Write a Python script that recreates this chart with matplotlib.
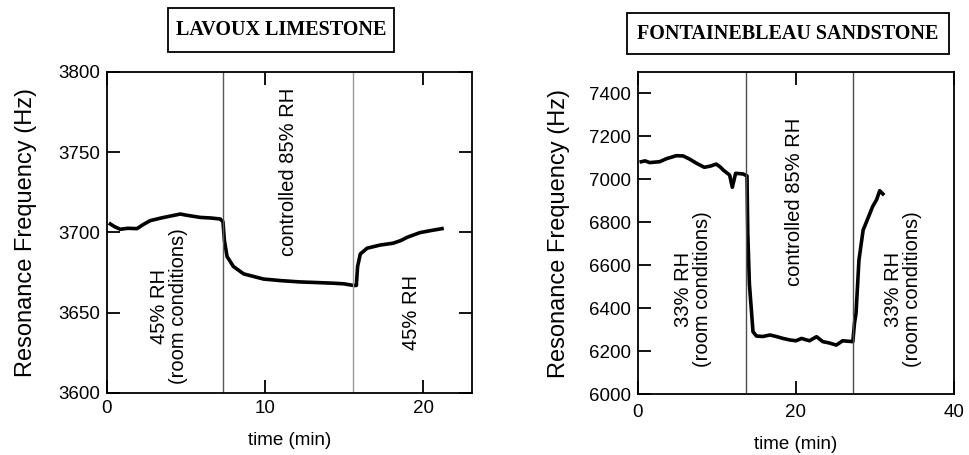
import matplotlib
matplotlib.use("Agg")
import matplotlib.pyplot as plt
from matplotlib.patches import Rectangle

plt.rcParams["font.family"] = ["Liberation Sans", "DejaVu Sans"]

# Lavoux limestone (left panel)
t_lav = [0.21, 0.5, 0.84, 1.3, 1.9, 2.3, 2.74, 3.5, 4.2, 4.64, 5.0, 5.9, 6.6, 7.17,
         7.34, 7.43, 7.6, 8.0, 8.65, 9.9, 11.0, 12.2, 13.3, 14.3, 15.0, 15.6, 15.78,
         15.86, 16.03, 16.46, 17.3, 18.1, 18.6, 19.0, 19.8, 20.5, 21.2]
f_lav = [3705.3, 3703.5, 3702.0, 3702.6, 3702.4, 3705.0, 3707.4, 3709.2, 3710.6, 3711.5,
         3710.8, 3709.4, 3709.0, 3708.4, 3706.7, 3695.0, 3685.0, 3678.8, 3674.2, 3671.0,
         3670.0, 3669.2, 3668.8, 3668.4, 3668.0, 3667.0, 3667.0, 3678.8, 3686.6, 3690.2,
         3692.2, 3693.3, 3695.0, 3697.0, 3699.9, 3701.2, 3702.4]
lav_bounds = [7.35, 15.6]

# Fontainebleau sandstone (right panel)
t_fon = [0.42, 0.9, 1.48, 2.1, 2.74, 3.6, 4.85, 5.7, 6.5, 7.4, 8.4, 9.2, 9.9, 10.4, 10.8,
         11.6, 11.94, 12.36, 13.3, 13.8, 13.9, 14.1, 14.56, 15.0, 15.8, 16.7, 17.5, 18.35,
         19.2, 20.0, 20.7, 21.7, 22.6, 23.4, 24.2, 25.1, 25.9, 27.2, 27.4, 27.6, 27.97,
         28.5, 29.1, 29.7, 30.2, 30.6, 31.0]
f_fon = [7082, 7086, 7078, 7080, 7082, 7096, 7110, 7109, 7095, 7075, 7056, 7062, 7071,
         7058, 7043, 7020, 6963, 7028, 7025, 7016, 6748, 6515, 6290, 6270, 6268, 6275,
         6268, 6259, 6252, 6248, 6259, 6248, 6267, 6244, 6238, 6228, 6248, 6244, 6329,
         6376, 6624, 6764, 6818, 6873, 6905, 6947, 6932]
fon_bounds = [13.67, 27.2]

fig = plt.figure(figsize=(9.7, 4.55), dpi=100)

ax1 = fig.add_axes([0.1103, 0.1363, 0.3763, 0.7055])
ax2 = fig.add_axes([0.6577, 0.134, 0.3258, 0.7078])

for ax, ypad in ((ax1, 15), (ax2, 14)):
    for s in ax.spines.values():
        s.set_linewidth(1.3)
    ax.set_xlabel("time (min)", fontsize=13.5, labelpad=11)
    ax.set_ylabel("Resonance Frequency (Hz)", fontsize=17, labelpad=ypad)

# left panel
ax1.plot(t_lav, f_lav, color="black", lw=2.6, solid_joinstyle="round")
ax1.axvline(lav_bounds[0], color="0.35", lw=1.0)
ax1.axvline(lav_bounds[1], color="0.6", lw=1.0)
ax1.set_xlim(0, 23.1)
ax1.set_ylim(3600, 3800)
ax1.set_xticks([0, 10, 20])
ax1.set_yticks([3600, 3650, 3700, 3750, 3800])
ax1.tick_params(direction="in", length=9.5, width=1.3, labelsize=13.5,
                top=True, right=True, pad=5)
ax1.text(3.9, 3654, "45% RH\n(room conditions)", rotation=90, ha="center",
         va="center", fontsize=14.5, linespacing=1.0)
ax1.text(11.5, 3738, "controlled 85% RH", rotation=90, ha="center",
         va="center", fontsize=14.5)
ax1.text(19.3, 3650, "45% RH", rotation=90, ha="center", va="center", fontsize=14.5)

# right panel
ax2.plot(t_fon, f_fon, color="black", lw=2.6, solid_joinstyle="round")
ax2.axvline(fon_bounds[0], color="0.3", lw=1.0)
ax2.axvline(fon_bounds[1], color="0.3", lw=1.0)
ax2.set_xlim(0, 40)
ax2.set_ylim(6000, 7500)
ax2.set_xticks([0, 20, 40])
ax2.set_yticks([6000, 6200, 6400, 6600, 6800, 7000, 7200, 7400])
ax2.tick_params(direction="in", length=9.5, width=1.3, labelsize=13.5,
                top=True, right=False, pad=5)
ax2.tick_params(axis="x", pad=7)
ax2.text(7.0, 6489, "33% RH\n(room conditions)", rotation=90, ha="center",
         va="center", fontsize=14.5, linespacing=1.0)
ax2.text(19.8, 6896, "controlled 85% RH", rotation=90, ha="center",
         va="center", fontsize=14.5)
ax2.text(33.5, 6489, "33% RH\n(room conditions)", rotation=90, ha="center",
         va="center", fontsize=14.5, linespacing=1.0)

# boxed titles
for (cx, cy, w, h, label) in [(0.2897, 0.934, 0.233, 0.0967, "LAVOUX LIMESTONE"),
                              (0.8124, 0.926, 0.332, 0.090, "FONTAINEBLEAU SANDSTONE")]:
    fig.patches.append(Rectangle((cx - w / 2, cy - h / 2), w, h, transform=fig.transFigure,
                                 fill=False, edgecolor="black", lw=1.3))
    fig.text(cx, cy, label, ha="center", va="center", fontsize=14.5,
             family="Liberation Serif", fontweight="bold")

fig.savefig("out.png", dpi=100)
